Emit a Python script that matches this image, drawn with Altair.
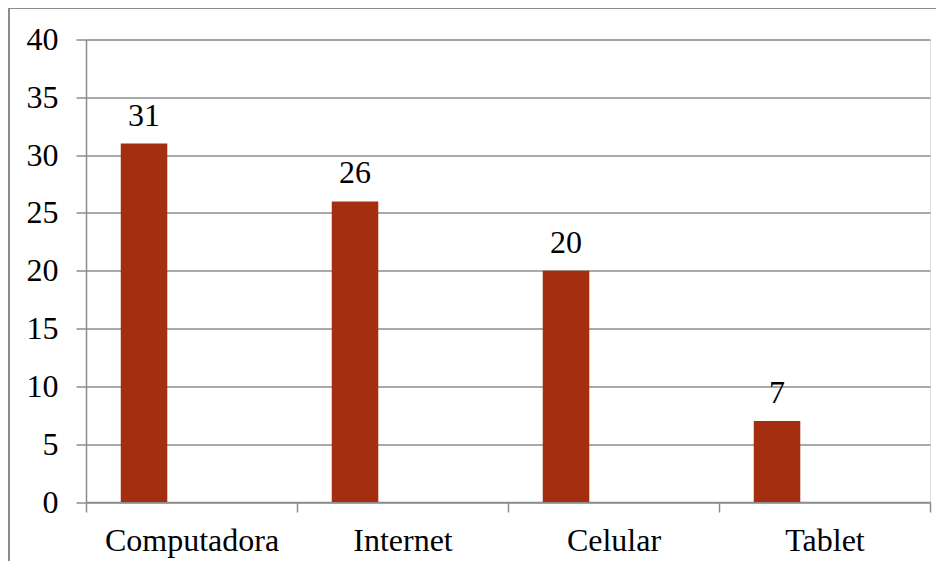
import altair as alt
import pandas as pd

categories = ["Computadora", "Internet", "Celular", "Tablet"]
values = [31, 26, 20, 7]
series = ["A", "A", "A", "A"]

df = pd.DataFrame({"cat": categories, "val": values, "s": series})

FONT = "'Liberation Serif', 'Times New Roman', Times, serif"
FS = 32

x = alt.X("cat:N", sort=categories, title=None,
          scale=alt.Scale(paddingInner=0, paddingOuter=0),
          axis=alt.Axis(labelAngle=0, labelFont=FONT, labelFontSize=FS, labelColor="black",
                        labelBaseline="alphabetic", labelPadding=38,
                        tickBand="extent", tickSize=10, tickColor="#8c8c8c", tickWidth=1.5,
                        domainColor="#8c8c8c", domainWidth=1.5, grid=False, labelLimit=400))
xo = alt.XOffset("s:N", scale=alt.Scale(domain=["A", "B"], paddingInner=0.51, paddingOuter=0.366))
y = alt.Y("val:Q", title=None,
          scale=alt.Scale(domain=[0, 40], nice=False),
          axis=alt.Axis(values=list(range(0, 41, 5)), labelFont=FONT, labelFontSize=FS,
                        labelColor="black", labelPadding=18, tickSize=10, tickColor="#8c8c8c",
                        tickWidth=1.5, domainColor="#8c8c8c", domainWidth=1.5,
                        gridColor="#8c8c8c", gridWidth=1.5))

bars = alt.Chart(df).mark_bar(color="#A32F10").encode(x=x, xOffset=xo, y=y)
labels = alt.Chart(df).mark_text(font=FONT, fontSize=FS, color="black",
                                 baseline="alphabetic", dy=-18).encode(
    x=x, xOffset=xo, y=y, text=alt.Text("val:Q"))

frame = alt.Chart(df).mark_rect(fill=None, stroke="#8c8c8c", strokeWidth=1.5).encode(
    x=alt.value(-77), x2=alt.value(900), y=alt.value(-31.5), y2=alt.value(600))

chart = alt.layer(frame, bars, labels).properties(
    width=844, height=462.5,
    autosize=alt.AutoSizeParams(type="none"),
    padding={"left": 78, "top": 31.5, "right": 6, "bottom": 59},
).configure_view(stroke=None).configure(background="white")

chart.save("out.html", embed_options={"renderer": "svg", "actions": False})
